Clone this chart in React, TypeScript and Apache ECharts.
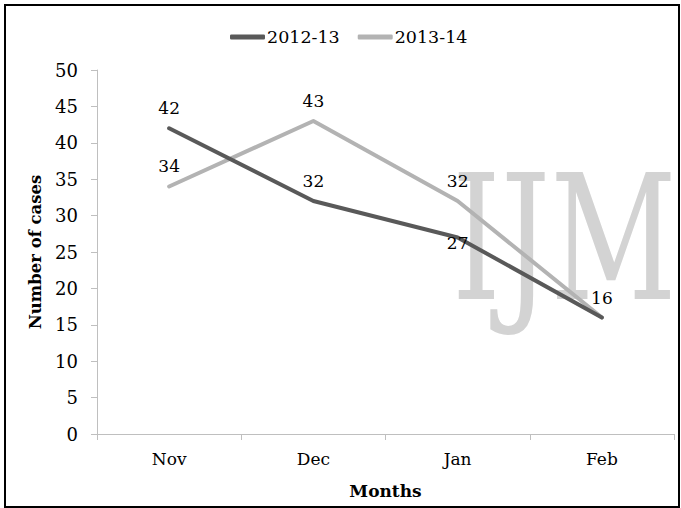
import React, { useEffect, useRef } from "react";
import * as echarts from "echarts";

const months = ["Nov", "Dec", "Jan", "Feb"];
const season1213 = [42, 32, 27, 16];
const season1314 = [34, 43, 32, 16];
const seriesNames = ["2012-13", "2013-14"];
const yTicks = [0, 5, 10, 15, 20, 25, 30, 35, 40, 45, 50];

const SERIF = "'DejaVu Serif', 'Liberation Serif', serif";

export default function App() {
  const ref = useRef<HTMLDivElement>(null);
  useEffect(() => {
    document.body.style.margin = "0";
    if (!ref.current) return;
    const chart = echarts.init(ref.current, undefined, { renderer: "svg" });
    const labelBase = {
      show: true,
      position: "top",
      distance: 11,
      color: "#000",
      fontFamily: SERIF,
      fontSize: 17,
    };
    chart.setOption({
      animation: false,
      backgroundColor: "#fff",
      legend: {
        top: 23,
        left: 225,
        itemWidth: 35,
        itemHeight: 5,
        itemGap: 18,
        icon: "roundRect",
        textStyle: { fontFamily: SERIF, fontSize: 17.5, color: "#000", padding: [0, 0, 0, -3] },
        data: seriesNames.map((n) => ({ name: n })),
      },
      grid: { left: 97, right: 7, top: 70, bottom: 74 },
      xAxis: {
        type: "category",
        data: months,
        boundaryGap: true,
        name: "Months",
        nameLocation: "middle",
        nameGap: 48,
        nameTextStyle: { fontFamily: SERIF, fontWeight: "bold", fontSize: 17, color: "#000" },
        axisLine: { lineStyle: { color: "#bfbfbf", width: 1 } },
        axisTick: { show: true, length: 6, lineStyle: { color: "#bfbfbf" } },
        axisLabel: { fontFamily: SERIF, fontSize: 17, color: "#000", margin: 16 },
      },
      yAxis: {
        type: "value",
        min: yTicks[0],
        max: yTicks[yTicks.length - 1],
        interval: 5,
        name: "Number of cases",
        nameLocation: "middle",
        nameGap: 47,
        nameTextStyle: { fontFamily: SERIF, fontWeight: "bold", fontSize: 16.5, color: "#000" },
        axisLine: { show: true, lineStyle: { color: "#bfbfbf", width: 1 } },
        axisTick: { show: true, length: 6, lineStyle: { color: "#bfbfbf" } },
        axisLabel: { fontFamily: SERIF, fontSize: 18, color: "#000", margin: 19 },
        splitLine: { show: false },
      },
      graphic: [
        {
          type: "text",
          z: -10,
          silent: true,
          x: 452,
          y: 152,
          scaleX: 0.71,
          style: {
            text: "IJM",
            fontFamily: SERIF,
            fontSize: 174,
            fill: "#d3d3d3",
            verticalAlign: "top",
          },
        },
        {
          type: "rect",
          silent: true,
          z: 100,
          shape: { x: 5, y: 5, width: 674, height: 502 },
          style: { fill: "none", stroke: "#000", lineWidth: 2 },
        },
      ],
      series: [
        {
          name: seriesNames[0],
          type: "line",
          data: season1213.map((v, i) =>
            i === 2 ? { value: v, label: { position: "inside", offset: [0, 6] } } : v
          ),
          showSymbol: true,
          symbol: "circle",
          symbolSize: 1,
          z: 3,
          lineStyle: { color: "#595959", width: 4, join: "round", cap: "round" },
          itemStyle: { color: "#595959" },
          label: labelBase,
        },
        {
          name: seriesNames[1],
          type: "line",
          data: season1314.map((v, i) =>
            i === season1314.length - 1 ? { value: v, label: { show: false } } : v
          ),
          showSymbol: true,
          symbol: "circle",
          symbolSize: 1,
          z: 2,
          lineStyle: { color: "#b3b3b3", width: 4, join: "round", cap: "round" },
          itemStyle: { color: "#b3b3b3" },
          label: labelBase,
        },
      ],
    });
    return () => chart.dispose();
  }, []);
  return <div ref={ref} style={{ width: 681, height: 508 }} />;
}
